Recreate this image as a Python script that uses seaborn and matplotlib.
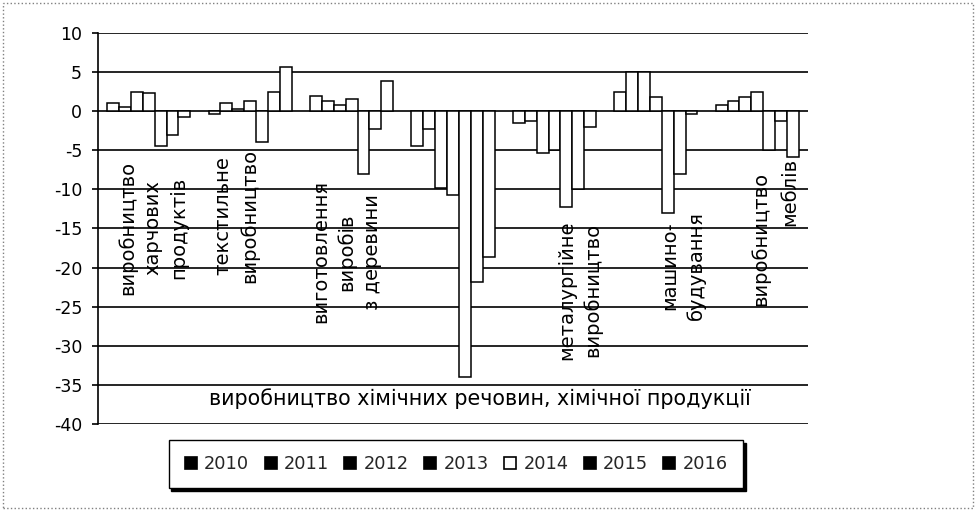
import numpy as np
import pandas as pd
import matplotlib
matplotlib.use("Agg")
import matplotlib.pyplot as plt
from matplotlib.lines import Line2D
from matplotlib.patches import Rectangle
import seaborn as sns

# industries (order on the x axis)
categories = ["харчові продукти", "текстиль", "деревина", "хімія",
              "металургія", "машинобудування", "меблі"]
years = ["2010", "2011", "2012", "2013", "2014", "2015", "2016"]

# values per year, one entry per category
v2010 = [1.0, -0.3, 2.0, -4.4, -1.5, 2.5, 0.8]
v2011 = [0.6, 1.0, 1.3, -2.3, -1.2, 5.0, 1.3]
v2012 = [2.5, 0.3, 0.8, -9.8, -5.4, 5.0, 1.8]
v2013 = [2.3, 1.3, 1.5, -10.7, -4.9, 1.8, 2.5]
v2014 = [-4.4, -3.9, -8.0, -34.0, -12.3, -13.0, -5.0]
v2015 = [-3.1, 2.5, -2.3, -21.8, -10.0, -8.0, -1.2]
v2016 = [-0.8, 5.6, 3.8, -18.6, -2.0, -0.3, -5.8]

yticks = [10, 5, 0, -5, -10, -15, -20, -25, -30, -35, -40]

series = [v2010, v2011, v2012, v2013, v2014, v2015, v2016]
df = pd.DataFrame({
    "category": categories * len(years),
    "year": np.repeat(years, len(categories)),
    "value": np.concatenate(series),
})

sns.set_style("white")
plt.rcParams["font.family"] = ["DejaVu Sans"]
plt.rcParams["axes.unicode_minus"] = False

fig = plt.figure(figsize=(9.76, 5.11), dpi=100)
ax = fig.add_axes([0.1004, 0.1703, 0.7275, 0.7651])

sns.barplot(data=df, x="category", y="value", hue="year", order=categories,
            hue_order=years, palette=["white"] * len(years), saturation=1,
            edgecolor="black", linewidth=1.1, width=0.82, legend=False,
            errorbar=None, ax=ax)

ax.set_xlim(-0.5, len(categories) - 0.5)
ax.set_ylim(-40, 10)
ax.set_yticks(yticks)
ax.set_xticks([])
ax.set_xlabel("")
ax.set_ylabel("")
ax.yaxis.grid(True, color="black", linewidth=1.2)
ax.set_axisbelow(True)
for side in ["top", "right", "bottom"]:
    ax.spines[side].set_visible(False)
ax.spines["left"].set_color("black")
ax.spines["left"].set_linewidth(1.2)
ax.tick_params(axis="y", direction="out", length=4.5, width=1.2, pad=7,
               labelsize=12.5, colors="black", left=True)

# category captions placed inside the plot area
lab_kw = dict(rotation=90, ha="center", va="center", multialignment="center",
              fontsize=14, linespacing=1.45, color="black")
ax.text(0.04, -14.9, "виробництво\nхарчових\nпродуктів", **lab_kw)
ax.text(0.86, -13.4, "текстильне\nвиробництво", **lab_kw)
ax.text(1.95, -18.0, "виготовлення\nвиробів\nз деревини", **lab_kw)
ax.text(4.25, -22.9, "металургійне\nвиробництво", **lab_kw)
ax.text(5.27, -19.8, "машино-\nбудування", **lab_kw)
ax.text(6.03, -16.3, "виробництво", **lab_kw)
ax.text(6.32, -10.3, "меблів", **lab_kw)
ax.text(3.27, -36.7, "виробництво хімічних речовин, хімічної продукції",
        ha="center", va="center", fontsize=14.9, color="black")

# legend: filled squares, only 2014 hollow
handles = [Line2D([], [], linestyle="none", marker="s", markersize=9,
                  markerfacecolor="white" if y == "2014" else "black",
                  markeredgecolor="black", markeredgewidth=1.2)
           for y in years]
leg = fig.legend(handles, years, loc="center", bbox_to_anchor=(0.467, 0.092),
                 ncol=len(years), fontsize=12.8, frameon=True, fancybox=False,
                 edgecolor="black", shadow={"color": "black", "alpha": 1},
                 handlelength=0.8, handletextpad=0.35, columnspacing=0.8,
                 borderpad=0.85)
leg.get_frame().set_linewidth(1.0)

# dotted border around the whole picture
fig.add_artist(Rectangle((0.003, 0.005), 0.994, 0.99, transform=fig.transFigure,
                         fill=False, linestyle=":", edgecolor="gray", linewidth=1))

fig.savefig("out.png", dpi=100)
